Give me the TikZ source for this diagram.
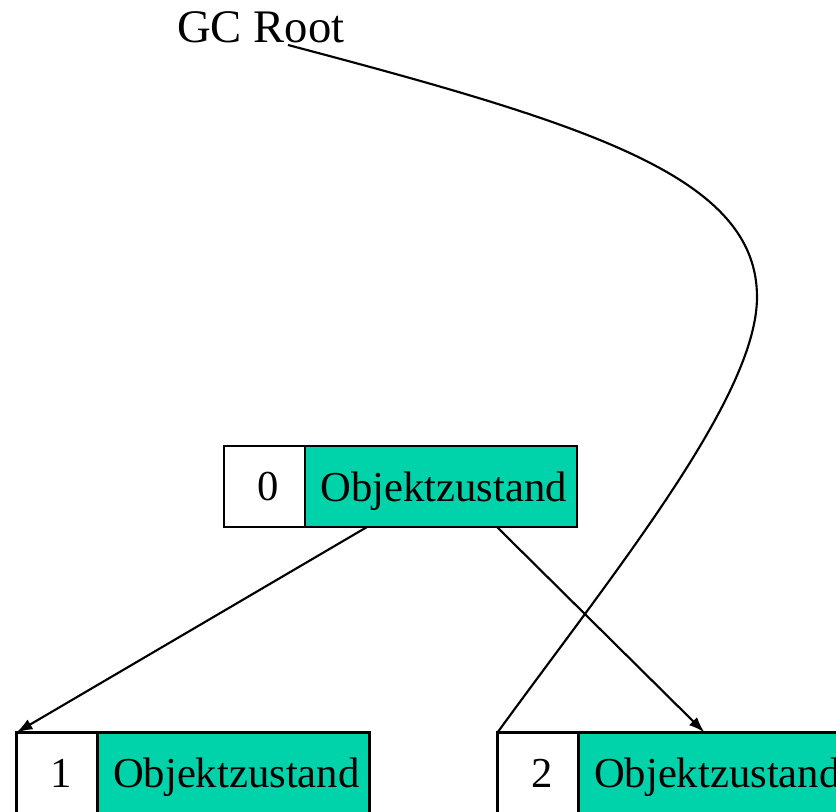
\documentclass[tikz,border=0pt]{standalone}
\usepackage{fontspec}
\setmainfont{Liberation Serif}
\usepackage{tikz}
\usetikzlibrary{shapes, arrows.meta, positioning}
\definecolor{zustand}{RGB}{0,210,170}
\tikzstyle{idx} = [draw, fill=white, rectangle, line width=2pt, inner sep=0pt, outer sep=0pt, minimum width=60.75pt, minimum height=60.75pt, text width=22pt, align=right, text depth=0pt, font=\fontsize{32pt}{38pt}\selectfont]
\tikzstyle{field} = [draw, fill=zustand, rectangle, line width=2pt, inner sep=0pt, outer sep=0pt, minimum width=204pt, minimum height=60.75pt, text width=189pt, align=right, text depth=0pt, font=\fontsize{32pt}{38pt}\selectfont]

\begin{document}
\begin{tikzpicture}[>={Latex[length=12pt,width=8.5pt]}, x=0.75pt, y=-0.75pt, line width=1.6pt]
    \useasboundingbox (0,0) rectangle (836,812);
    \node[anchor=base west, inner sep=0pt, font=\fontsize{35pt}{42pt}\selectfont] (root) at (176,43) {GC Root};
    \coordinate (gc) at (288,45);
    \node[idx] (n0) at (264.5,486.5) {0};
    \node[field, right=0pt of n0] (s0) {Objektzustand};
    \node[idx] (n1) at (57,773) {1};
    \node[field, right=0pt of n1] (s1) {Objektzustand};
    \node[idx, right=96pt of s1] (n2) {2};
    \node[field, right=0pt of n2] (s2) {Objektzustand};
    \draw[->] ([xshift=46.5pt]s0.south west) -- (n1.north west);
    \draw[->] ([xshift=144pt]s0.south west) -- ([xshift=94.5pt]s2.north west);
    \draw (gc) .. controls (591,125) and (757,177) .. (757,297)
        .. controls (757,397) and (615,571) .. (n2.north west);
\end{tikzpicture}
\end{document}
